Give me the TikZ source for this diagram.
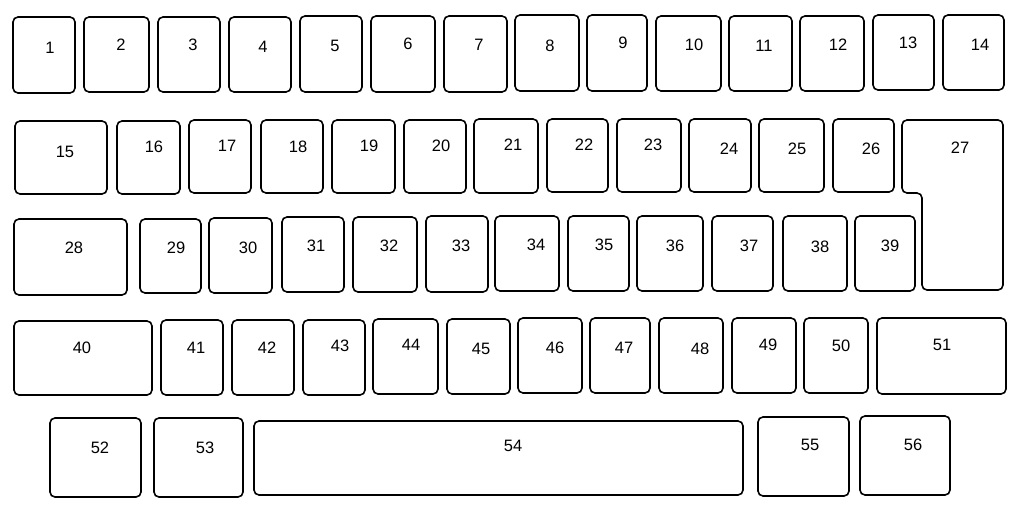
\documentclass[tikz,border=0pt]{standalone}
\usepackage{fontspec}
\setmainfont{Liberation Sans}
\begin{document}
\begin{tikzpicture}[x=1pt,y=-1pt,
  keybox/.style={draw=black, line width=1.6pt, rounded corners=5pt, inner sep=0pt, fill=none},
  lab/.style={font=\fontsize{16.5}{16.5}\selectfont, inner sep=0pt}]
\useasboundingbox (0,0) rectangle (1024,516);
\foreach \n/\a/\b/\c/\d/\lx/\ly in {
 1/13/17/75/93/50/48, 2/84/17/149/92/121/45, 3/158/17/220/92/193/45, 4/229/17/291/92/263/47,
 5/300/16/362/92/335/46, 6/371/16/435/92/408/44, 7/444/16/507/92/479/45, 8/515/15/579/91/550/46,
 9/587/15/647/91/623/43, 10/656/16/721/91/694/45, 11/729/16/792/91/764/46, 12/800/16/864/91/838/45,
 13/873/15/934/90/908/43, 14/943/15/1004/90/980/45,
 15/15/121/107/194/65/152, 16/117/121/180/194/154/147, 17/189/120/251/193/227/146, 18/261/120/323/193/298/147,
 19/332/120/395/193/369/146, 20/404/120/466/193/441/146, 21/474/119/538/193/513/145, 22/547/119/608/192/584/145,
 23/617/119/681/192/653/145, 24/689/119/751/192/729/149, 25/759/119/824/192/797/149, 26/833/119/894/192/871/149,
 28/14/219/127/295/74/248, 29/140/219/201/293/176/248, 30/209/218/272/293/248/248, 31/282/217/344/292/316/246,
 32/353/217/417/292/389/246, 33/426/216/488/292/461/246, 34/495/216/559/291/536/245, 35/568/216/629/291/604/245,
 36/637/216/703/291/675/246, 37/712/216/773/291/749/246, 38/783/216/847/291/820/247, 39/855/216/915/291/890/246,
 40/14/321/152/395/82/348, 41/161/320/223/395/196/348, 42/232/320/294/395/267/348, 43/303/320/365/395/340/346,
 44/373/319/438/394/411/345, 45/447/319/510/394/481/349, 46/518/318/582/393/555/348, 47/590/318/650/393/624/348,
 48/659/318/723/393/700/349, 49/732/318/796/393/768/345, 50/804/318/868/393/841/346, 51/877/318/1006/394/942/345,
 52/50/418/141/497/100/448, 53/154/418/243/497/205/448, 54/254/421/743/495/513/446,
 55/758/417/849/496/810/445, 56/860/416/950/495/913/445}
{
  \node[keybox, minimum width={(\c-\a)*1pt}, minimum height={(\d-\b)*1pt}] (k\n) at ({(\a+\c)/2},{(\b+\d)/2}) {};
  \node[lab] (t\n) at (\lx,\ly) {\n};
}
% key 27 (L-shaped)
\draw[line width=1.6pt, rounded corners=5pt] (902,193) -- (902,120) -- (1003,120) -- (1003,290) -- (922,290) -- (922,193) -- cycle;
\node[lab] (t27) at (960,148) {27};
\end{tikzpicture}
\end{document}
